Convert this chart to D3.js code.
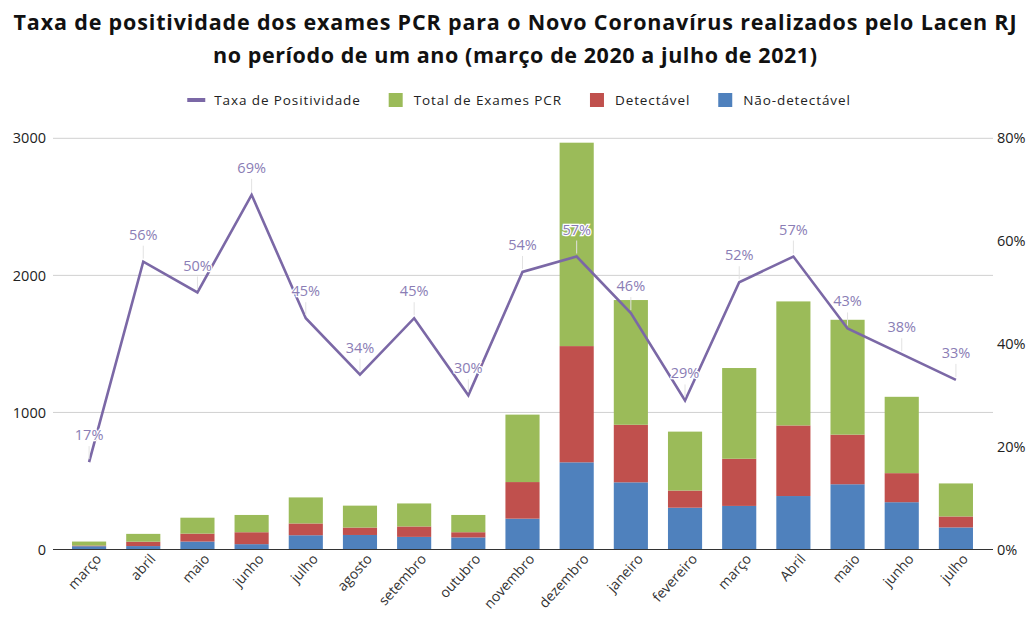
<!DOCTYPE html>
<html>
<head>
<meta charset="utf-8">
<script src="https://cdn.jsdelivr.net/npm/d3@7"></script>
<style>
  body { margin: 0; background: #fff; }
  text { font-family: "Open Sans", "Noto Sans", sans-serif; }
</style>
</head>
<body>
<div id="chart"></div>
<script>
// month labels (index based, names repeat)
const months = ["março", "abril", "maio", "junho", "julho", "agosto", "setembro", "outubro",
  "novembro", "dezembro", "janeiro", "fevereiro", "março", "Abril", "maio", "junho", "julho"];
// Não-detectável
const naoDetect = [24, 25, 58, 39, 104, 106, 92, 88, 225, 636, 490, 305, 318, 390, 476, 345, 161];
// Detectável
const detect = [5, 32, 58, 87, 86, 54, 76, 38, 267, 848, 420, 125, 344, 515, 362, 212, 80];
// Taxa de positividade (%)
const taxa = [17, 56, 50, 69, 45, 34, 45, 30, 54, 57, 46, 29, 52, 57, 43, 38, 33];

const leftTicks = [0, 1000, 2000, 3000];
const rightTicks = [0, 20, 40, 60, 80];

const width = 1029, height = 617;
const colors = { nd: "#4f81bd", d: "#c0504d", t: "#9bbb59" };
const lineColor = "#7b68a6";
const labelColor = "#8a7db5";

const table = months.map((m, i) => ({ i: i, nd: naoDetect[i], d: detect[i], t: naoDetect[i] + detect[i] }));

const svg = d3.select("#chart").append("svg")
  .attr("width", width)
  .attr("height", height);

// title
const title = svg.append("text")
  .attr("text-anchor", "middle")
  .attr("font-weight", "bold")
  .attr("font-size", 21.5)
  .attr("fill", "#111");
title.append("tspan").attr("x", 515).attr("y", 30)
  .attr("textLength", 1003).attr("lengthAdjust", "spacing")
  .text("Taxa de positividade dos exames PCR para o Novo Coronavírus realizados pelo Lacen RJ");
title.append("tspan").attr("x", 515).attr("y", 63)
  .attr("textLength", 604).attr("lengthAdjust", "spacing")
  .text("no período de um ano (março de 2020 a julho de 2021)");

// scales
const x = d3.scaleBand()
  .domain(d3.range(months.length))
  .range([62, 983])
  .paddingInner(0.37)
  .paddingOuter(0.185);

const y = d3.scaleLinear().domain([0, 3000]).range([549.5, 138.3]);
const y2 = d3.scaleLinear().domain([0, 80]).range([549.5, 138.3]);

// grid
svg.append("g").selectAll("line")
  .data(leftTicks.filter(d => d > 0))
  .enter().append("line")
  .attr("x1", 53).attr("x2", 993)
  .attr("y1", d => y(d)).attr("y2", d => y(d))
  .attr("stroke", "#d0d0d0")
  .attr("stroke-width", 1);

// left axis
const yAxis = svg.append("g")
  .attr("transform", "translate(46,0)")
  .call(d3.axisLeft(y).tickValues(leftTicks).tickSize(0).tickPadding(0).tickFormat(d3.format("d")));
yAxis.select(".domain").remove();
yAxis.selectAll("text").attr("font-size", 14.5).attr("fill", "#222");

// right axis
const yAxis2 = svg.append("g")
  .attr("transform", "translate(997,0)")
  .call(d3.axisRight(y2).tickValues(rightTicks).tickSize(0).tickPadding(0).tickFormat(d => d + "%"));
yAxis2.select(".domain").remove();
yAxis2.selectAll("text").attr("font-size", 14.5).attr("fill", "#222");

// stacked bars
const stack = d3.stack().keys(["nd", "d", "t"]);
const series = stack(table);

svg.append("g").selectAll("g")
  .data(series)
  .enter().append("g")
  .attr("fill", s => colors[s.key])
  .selectAll("rect")
  .data(s => s)
  .enter().append("rect")
  .attr("x", d => x(d.data.i))
  .attr("width", x.bandwidth())
  .attr("y", d => y(d[1]))
  .attr("height", d => y(d[0]) - y(d[1]));

// baseline
svg.append("line")
  .attr("x1", 53).attr("x2", 993)
  .attr("y1", y(0)).attr("y2", y(0))
  .attr("stroke", "#333")
  .attr("stroke-width", 1.2);

// x axis labels
const xAxis = svg.append("g")
  .attr("transform", `translate(0,${y(0)})`)
  .call(d3.axisBottom(x).tickSize(0).tickPadding(0).tickFormat(i => months[i]));
xAxis.select(".domain").remove();
xAxis.selectAll("text")
  .attr("font-size", 14)
  .attr("fill", "#333")
  .attr("text-anchor", "end")
  .attr("dy", 0)
  .attr("transform", "translate(13,10) rotate(-48)");

// positivity line
const line = d3.line()
  .x((d, i) => x(i) + x.bandwidth() / 2)
  .y(d => y2(d));

svg.append("path")
  .datum(taxa)
  .attr("fill", "none")
  .attr("stroke", lineColor)
  .attr("stroke-width", 2.6)
  .attr("stroke-linejoin", "miter")
  .attr("d", line);

// leader lines and labels
const lbl = svg.append("g").selectAll("g")
  .data(taxa)
  .enter().append("g")
  .attr("transform", (d, i) => `translate(${x(i) + x.bandwidth() / 2},${y2(d)})`);

lbl.append("line")
  .attr("y1", -3).attr("y2", -16)
  .attr("stroke", "#e2e2e2")
  .attr("stroke-width", 1);

lbl.append("text")
  .attr("y", -22)
  .attr("text-anchor", "middle")
  .attr("font-size", 14.5)
  .attr("fill", labelColor)
  .attr("stroke", "#fff")
  .attr("stroke-width", 2.5)
  .attr("paint-order", "stroke")
  .text(d => d + "%");

// legend
const legendItems = [
  { name: "Taxa de Positividade", color: lineColor, type: "line" },
  { name: "Total de Exames PCR", color: colors.t, type: "rect" },
  { name: "Detectável", color: colors.d, type: "rect" },
  { name: "Não-detectável", color: colors.nd, type: "rect" }
];

const legend = svg.append("g");
let lx = 0;
legendItems.forEach(item => {
  const g = legend.append("g").attr("transform", `translate(${lx},0)`);
  if (item.type === "line") {
    g.append("rect").attr("x", 0).attr("y", -2).attr("width", 18).attr("height", 4).attr("fill", item.color);
  } else {
    g.append("rect").attr("x", 2).attr("y", -7).attr("width", 14).attr("height", 14).attr("fill", item.color);
  }
  const t = g.append("text")
    .attr("x", 27)
    .attr("y", 4.5)
    .attr("font-size", 13.5)
    .attr("letter-spacing", 0.9)
    .attr("fill", "#222")
    .text(item.name);
  lx += 27 + t.node().getComputedTextLength() + 26;
});
const legendWidth = lx - 26;
legend.attr("transform", `translate(${519 - legendWidth / 2},100)`);
</script>
</body>
</html>
